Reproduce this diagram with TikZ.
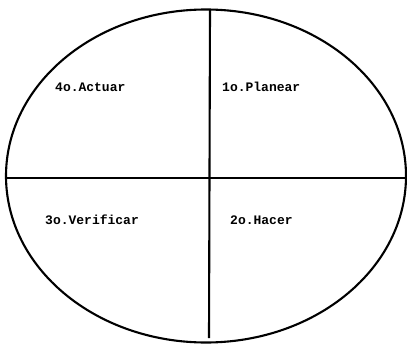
\documentclass[tikz,border=0pt]{standalone}
\usepackage{fontspec}
\setmonofont{Liberation Mono}
\usetikzlibrary{shapes.geometric}
\begin{document}
\begin{tikzpicture}[x=1pt,y=-1pt,
  edge/.style={line width=2.1pt,black},
  lbl/.style={font=\ttfamily\bfseries\fontsize{13}{15}\selectfont,anchor=west,inner sep=0pt}]
\useasboundingbox (0,0) rectangle (407,345);
\node[draw,edge,ellipse,minimum width=400pt,minimum height=333pt,inner sep=0pt] (ov) at (206,176) {};
\coordinate (t) at (210,10);
\coordinate (b) at (209,338);
\coordinate (l) at (6,178);
\coordinate (r) at (406,178);
\draw[edge] (t) -- (b);
\draw[edge] (l) -- (r);
\node[lbl] (q4) at (55,87) {4o.Actuar};
\node[lbl] (q1) at (222,87) {1o.Planear};
\node[lbl] (q3) at (45,220) {3o.Verificar};
\node[lbl] (q2) at (230,220) {2o.Hacer};
\end{tikzpicture}
\end{document}
